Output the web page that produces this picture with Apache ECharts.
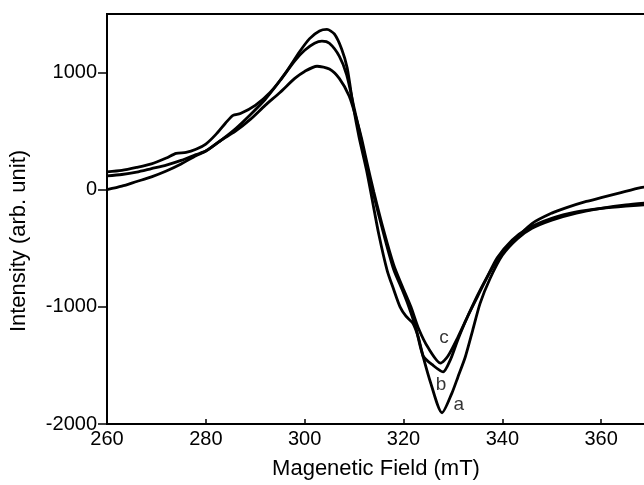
<!DOCTYPE html>
<html>
<head>
<meta charset="utf-8">
<script src="https://cdn.jsdelivr.net/npm/echarts@6/dist/echarts.min.js"></script>
<style>
html,body{margin:0;padding:0;background:#fff;}
#chart{width:644px;height:485px;}
</style>
</head>
<body>
<div id="chart"></div>
<script>
// Curve a (largest amplitude)
const aField = [260,263,266,269,272,274,276,278,280,282,284,285.5,287,290,293,296,299,301,303,304.5,306,307.5,308.6,309.8,311,312.5,313.6,315,316.7,318,319.3,320.5,321.9,323,324,325.5,327.8,329.8,331,332.5,334,335.5,337.5,340,343,346,350,355,360,365,370];
const aVal   = [153,165,190,220,270,310,318,345,390,470,570,635,650,720,830,990,1180,1290,1355,1368,1330,1200,1040,720,450,170,-70,-380,-690,-850,-1000,-1080,-1140,-1260,-1430,-1650,-1904,-1736,-1600,-1428,-1200,-970,-760,-560,-420,-330,-260,-200,-160,-130,-110];
// Curve b
const bField = [260,263,266,269,272,275,278,280,283,286,289,292,295,298,300,302,303.5,305,307,308.5,310,311.2,312.5,314,316,318,319.7,321,322.5,324,326,328,329.5,331,333,335,337,339,342,345,350,355,360,365,370];
const bVal   = [119,130,150,180,210,250,300,330,420,520,640,770,930,1100,1190,1250,1268,1250,1140,980,700,476,220,-50,-380,-680,-850,-990,-1180,-1420,-1500,-1555,-1450,-1280,-1080,-910,-740,-580,-430,-335,-245,-190,-160,-140,-125];
// Curve c
const cField = [260,263,266,269,272,275,278,280,283,286,289,292,295,298,300,302.5,305,307,309,310.5,311.5,312.5,314,316,318,319.7,321.5,323,325,327.5,329,331,333,335,337,339,341,346,350,353,357,360,364,368,370];
const cVal   = [0,30,70,110,160,220,290,330,420,500,600,720,830,950,1010,1054,1030,950,800,600,440,250,-20,-350,-640,-820,-1000,-1180,-1350,-1480,-1420,-1260,-1080,-900,-740,-600,-493,-289,-200,-153,-100,-68,-25,17,30];
// Curve labels
const labelText  = ['a','b','c'];
const labelField = [331.2,327.6,328.2];
const labelVal   = [-1840,-1665,-1265];
// Axis ticks
const xTicks = [260,280,300,320,340,360];
const yTicks = [-2000,-1000,0,1000];

const zip = (xs, ys) => xs.map((x,i)=>[x, ys[i]]);
const lineStyle = {color:'#000', width:2.8};
const mkSeries = (name, xs, ys) => ({
  name, type:'line', data: zip(xs, ys), showSymbol:false, smooth:0.25,
  lineStyle, itemStyle:{color:'#000'}, z:3
});
const font = '"Liberation Sans", Arial';

const chart = echarts.init(document.getElementById('chart'), null, {renderer:'canvas'});
chart.setOption({
  animation:false,
  backgroundColor:'#fff',
  grid:{left:107, top:14, width:593, height:410, outerBoundsMode:'none', containLabel:false,
        show:true, borderColor:'#000', borderWidth:2},
  xAxis:{
    type:'value', min:260, max:380, interval:20,
    axisLine:{onZero:false, lineStyle:{color:'#000', width:2}},
    axisTick:{inside:true, length:5, customValues:xTicks, lineStyle:{color:'#000', width:1.5}},
    axisLabel:{color:'#000', fontSize:20, fontFamily:font, margin:5, customValues:xTicks, formatter:v=>String(v)},
    splitLine:{show:false}
  },
  yAxis:{
    type:'value', min:-2000, max:1500, interval:1000,
    axisLine:{show:true, onZero:false, lineStyle:{color:'#000', width:2}},
    axisTick:{show:true, length:9, customValues:yTicks, lineStyle:{color:'#000', width:1.5}},
    axisLabel:{color:'#000', fontSize:20, fontFamily:font, margin:10, customValues:yTicks, formatter:v=>String(v)},
    splitLine:{show:false}
  },
  series:[
    mkSeries('a', aField, aVal),
    mkSeries('b', bField, bVal),
    mkSeries('c', cField, cVal),
    {
      type:'scatter', symbolSize:0, silent:true,
      data: labelText.map((t,i)=>({value:[labelField[i], labelVal[i]], name:t})),
      label:{show:true, position:'inside', formatter:p=>p.name, color:'#000', fontSize:19, fontFamily:font}
    }
  ],
  graphic:[
    {type:'text', x:376, y:469, style:{text:'Magenetic Field (mT)', font:'22px "Liberation Sans", Arial', fill:'#000', textAlign:'center', textVerticalAlign:'middle'}},
    {type:'text', x:19, y:241, rotation:Math.PI/2, style:{text:'Intensity (arb. unit)', font:'22px "Liberation Sans", Arial', fill:'#000', textAlign:'center', textVerticalAlign:'middle'}}
  ]
});
</script>
</body>
</html>
